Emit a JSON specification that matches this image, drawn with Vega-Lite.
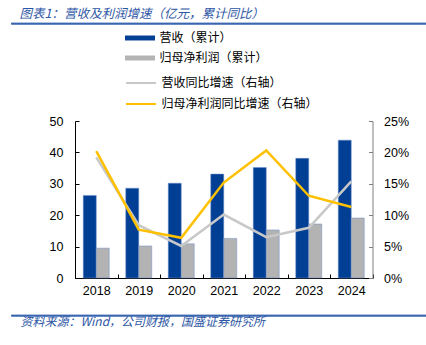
{
  "$schema": "https://vega.github.io/schema/vega-lite/v6.json",
  "padding": {"left": 8.25, "top": 7, "right": 0, "bottom": 0},
  "autosize": {"type": "pad"},
  "bounds": "flush",
  "center": true,
  "spacing": 37,
  "config": {
    "view": {"stroke": null},
    "font": "Liberation Sans",
    "axis": {"labelFont": "Liberation Sans", "labelFontSize": 12.5, "labelColor": "#000000", "grid": false, "title": null, "tickSize": -4, "domainColor": "#000000", "tickColor": "#000000"}
  },
  "datasets": {
    "bars": [
      {"year": "2018", "series": "营收（累计）", "value": 26.3},
      {"year": "2019", "series": "营收（累计）", "value": 28.6},
      {"year": "2020", "series": "营收（累计）", "value": 30.2},
      {"year": "2021", "series": "营收（累计）", "value": 33.1},
      {"year": "2022", "series": "营收（累计）", "value": 35.2},
      {"year": "2023", "series": "营收（累计）", "value": 38.1},
      {"year": "2024", "series": "营收（累计）", "value": 43.9},
      {"year": "2018", "series": "归母净利润（累计）", "value": 9.5},
      {"year": "2019", "series": "归母净利润（累计）", "value": 10.2},
      {"year": "2020", "series": "归母净利润（累计）", "value": 10.9},
      {"year": "2021", "series": "归母净利润（累计）", "value": 12.6},
      {"year": "2022", "series": "归母净利润（累计）", "value": 15.3},
      {"year": "2023", "series": "归母净利润（累计）", "value": 17.2},
      {"year": "2024", "series": "归母净利润（累计）", "value": 19.1}
    ],
    "lines": [
      {"year": "2018", "series": "营收同比增速（右轴）", "value": 0.192},
      {"year": "2019", "series": "营收同比增速（右轴）", "value": 0.084},
      {"year": "2020", "series": "营收同比增速（右轴）", "value": 0.051},
      {"year": "2021", "series": "营收同比增速（右轴）", "value": 0.101},
      {"year": "2022", "series": "营收同比增速（右轴）", "value": 0.065},
      {"year": "2023", "series": "营收同比增速（右轴）", "value": 0.080},
      {"year": "2024", "series": "营收同比增速（右轴）", "value": 0.154},
      {"year": "2018", "series": "归母净利润同比增速（右轴）", "value": 0.202},
      {"year": "2019", "series": "归母净利润同比增速（右轴）", "value": 0.077},
      {"year": "2020", "series": "归母净利润同比增速（右轴）", "value": 0.064},
      {"year": "2021", "series": "归母净利润同比增速（右轴）", "value": 0.152},
      {"year": "2022", "series": "归母净利润同比增速（右轴）", "value": 0.203},
      {"year": "2023", "series": "归母净利润同比增速（右轴）", "value": 0.131},
      {"year": "2024", "series": "归母净利润同比增速（右轴）", "value": 0.113}
    ],
    "frame": [{"a": 0, "b": 1}]
  },
  "vconcat": [
    {
      "width": 425,
      "height": 1,
      "view": {"stroke": "#3a66b0", "strokeWidth": 0.75, "fill": "#3a66b0"},
      "title": {"text": "图表1：营收及利润增速（亿元，累计同比）", "anchor": "start", "font": "Noto Sans CJK SC", "fontSize": 12.5, "fontStyle": "italic", "fontWeight": "normal", "color": "#2d56a5", "offset": 2, "dx": 9},
      "data": {"name": "frame"},
      "mark": {"type": "rule", "color": "#3a66b0", "strokeWidth": 1.5},
      "encoding": {
        "x": {"field": "a", "type": "quantitative", "scale": {"domain": [0, 1], "nice": false}, "axis": null},
        "x2": {"field": "b"}
      }
    },
    {
      "width": 425,
      "height": 23,
      "data": {"name": "frame"},
      "mark": {"type": "point", "opacity": 0},
      "encoding": {
        "x": {"field": "a", "type": "quantitative", "scale": {"domain": [0, 1], "nice": false}, "axis": null}
      }
    },
    {
      "width": 297.5,
      "height": 157,
      "layer": [
        {
          "data": {"name": "bars"},
          "mark": {"type": "bar", "stroke": "#6f8fc8", "strokeWidth": 0.5},
          "encoding": {
            "x": {"field": "year", "type": "nominal", "scale": {"paddingInner": 0, "paddingOuter": 0}, "axis": {"labelAngle": 0, "tickBand": "extent", "labelPadding": 10}},
            "xOffset": {"field": "series", "type": "nominal", "sort": ["营收（累计）", "归母净利润（累计）"], "scale": {"paddingInner": 0, "paddingOuter": 0.635}},
            "y": {"field": "value", "type": "quantitative", "scale": {"domain": [0, 50]}, "axis": {"orient": "left", "values": [0, 10, 20, 30, 40, 50], "labelPadding": 16}},
            "color": {
              "field": "series", "type": "nominal",
              "scale": {"domain": ["营收（累计）", "归母净利润（累计）"], "range": ["#003f94", "#b3b3b3"]},
              "legend": {"orient": "none", "legendX": 57.5, "legendY": -90.5, "title": null, "padding": 0, "labelFont": "Noto Sans CJK SC", "labelFontSize": 12, "labelColor": "#000000", "symbolType": "M-2,-0.33H2V0.33H-2Z", "symbolSize": 225, "symbolStrokeWidth": 0, "labelOffset": 12, "rowPadding": 6}
            }
          }
        },
        {
          "data": {"name": "lines"},
          "mark": {"type": "line", "strokeWidth": 2.5},
          "encoding": {
            "x": {"field": "year", "type": "nominal"},
            "y": {"field": "value", "type": "quantitative", "scale": {"domain": [0, 0.25]}, "axis": {"orient": "right", "format": ".0%", "values": [0, 0.05, 0.1, 0.15, 0.2, 0.25], "domainColor": "#7f7f7f", "tickColor": "#7f7f7f", "labelPadding": 15}},
            "color": {
              "field": "series", "type": "nominal",
              "scale": {"domain": ["营收同比增速（右轴）", "归母净利润同比增速（右轴）"], "range": ["#c8c8c8", "#ffc000"]},
              "legend": {"orient": "none", "legendX": 57.5, "legendY": -46.5, "title": null, "padding": 0, "labelFont": "Noto Sans CJK SC", "labelFontSize": 12, "labelColor": "#000000", "symbolType": "M-2,0H2", "symbolSize": 225, "symbolStrokeWidth": 2, "labelOffset": 12, "rowPadding": 6}
            }
          }
        }
      ],
      "resolve": {"scale": {"y": "independent", "color": "independent"}}
    },
    {
      "width": 425,
      "height": 1,
      "view": {"stroke": "#3a66b0", "strokeWidth": 0.75, "fill": "#3a66b0"},
      "title": {"text": "资料来源：Wind，公司财报，国盛证券研究所", "orient": "bottom", "anchor": "start", "font": "Noto Sans CJK SC", "fontSize": 12, "fontStyle": "italic", "fontWeight": "normal", "color": "#2d56a5", "offset": 1, "dx": 10},
      "data": {"name": "frame"},
      "mark": {"type": "rule", "color": "#3a66b0", "strokeWidth": 1.5},
      "encoding": {
        "x": {"field": "a", "type": "quantitative", "scale": {"domain": [0, 1], "nice": false}, "axis": null},
        "x2": {"field": "b"}
      }
    }
  ]
}
